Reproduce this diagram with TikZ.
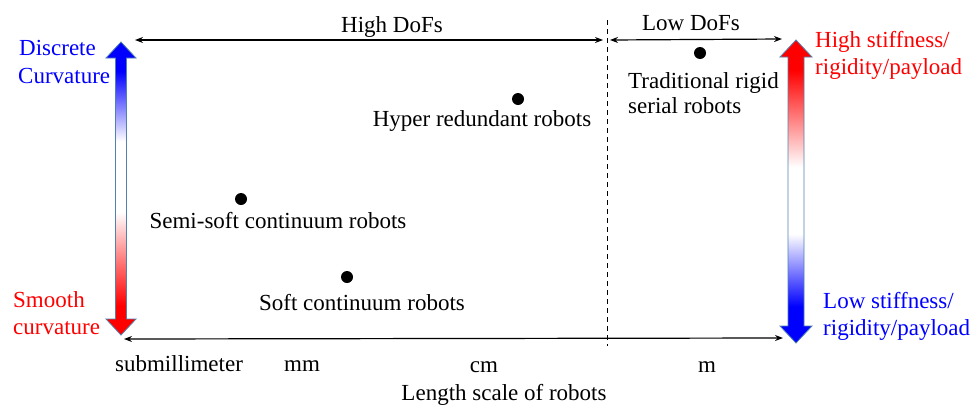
\documentclass[tikz,border=0pt]{standalone}
\usepackage{fontspec}
\setmainfont{Liberation Serif}
\usetikzlibrary{arrows.meta}

% Colour ramps for the two scale bars (stretched so that 25bp..75bp covers the bar)
\pgfdeclareverticalshading{curvramp}{100bp}{%
  color(0bp)=(red); color(30bp)=(red); color(46bp)=(white);
  color(58bp)=(white); color(70bp)=(blue); color(100bp)=(blue)}
\pgfdeclareverticalshading{stifframp}{100bp}{%
  color(0bp)=(blue); color(31bp)=(blue); color(43bp)=(white);
  color(54bp)=(white); color(70bp)=(red); color(100bp)=(red)}

\definecolor{barline}{RGB}{80,130,175}

\tikzset{
  lbl/.style={inner sep=0pt, anchor=base, font=\fontsize{23}{27}\selectfont},
  lblw/.style={lbl, anchor=base west},
  dot/.style={circle, fill=black, inner sep=0pt, minimum size=12pt},
  span/.style={line width=1.2pt, {Stealth[length=8pt,width=6pt]}-{Stealth[length=8pt,width=6pt]}},
  bar/.style={draw=barline, line width=0.8pt},
}

\begin{document}
\begin{tikzpicture}[x=1pt, y=-1pt]
\useasboundingbox (0,0) rectangle (979,405);

% ---- left scale bar: discrete (top) to smooth (bottom) curvature
\def\cx{121}\def\yt{42}\def\yb{335}\def\hl{16}\def\hw{15}\def\sw{5.5}
\shadedraw[shading=curvramp, bar]
  (\cx,\yt) -- (\cx+\hw,\yt+\hl) -- (\cx+\sw,\yt+\hl) -- (\cx+\sw,\yb-\hl)
  -- (\cx+\hw,\yb-\hl) -- (\cx,\yb) -- (\cx-\hw,\yb-\hl) -- (\cx-\sw,\yb-\hl)
  -- (\cx-\sw,\yt+\hl) -- (\cx-\hw,\yt+\hl) -- cycle;

% ---- right scale bar: high (top) to low (bottom) stiffness
\def\cx{796}\def\yt{40}\def\yb{343}\def\hl{17}\def\hw{16}\def\sw{8}
\shadedraw[shading=stifframp, bar]
  (\cx,\yt) -- (\cx+\hw,\yt+\hl) -- (\cx+\sw,\yt+\hl) -- (\cx+\sw,\yb-\hl)
  -- (\cx+\hw,\yb-\hl) -- (\cx,\yb) -- (\cx-\hw,\yb-\hl) -- (\cx-\sw,\yb-\hl)
  -- (\cx-\sw,\yt+\hl) -- (\cx-\hw,\yt+\hl) -- cycle;

% ---- span arrows
\coordinate (hiL) at (135,40);
\coordinate (hiR) at (603,40);
\coordinate (loL) at (610,40);
\coordinate (loR) at (782,39);
\coordinate (axL) at (124,339);
\coordinate (axR) at (783,338);
\coordinate (divT) at (607,20);
\coordinate (divB) at (607,346);

\draw[span] (hiL) -- (hiR);
\draw[span] (loL) -- (loR);
\draw[span] (axL) -- (axR);
\draw[line width=1pt, dash pattern=on 5pt off 4pt] (divT) -- (divB);

\node[lbl] (hidof) at (392,32) {High DoFs};
\node[lbl] (lodof) at (691,30) {Low DoFs};

% ---- side labels
\node[lblw, text=blue] (disc1) at (19,55) {Discrete};
\node[lblw, text=blue] (disc2) at (18,83) {Curvature};
\node[lblw, text=red] (smo1) at (13,307) {Smooth};
\node[lblw, text=red] (smo2) at (13,334) {curvature};
\node[lblw, text=red] (hs1) at (815,47) {High stiffness/};
\node[lblw, text=red] (hs2) at (815,74) {rigidity/payload};
\node[lblw, text=blue] (ls1) at (823,308) {Low stiffness/};
\node[lblw, text=blue] (ls2) at (823,335) {rigidity/payload};

% ---- robot classes
\node[dot] (semi) at (241,199) {};
\node[lbl] (semil) at (278,228) {Semi-soft continuum robots};
\node[dot] (soft) at (347,277) {};
\node[lbl] (softl) at (362,310) {Soft continuum robots};
\node[dot] (hyper) at (518,99) {};
\node[lbl] (hyperl) at (482,126) {Hyper redundant robots};
\node[dot] (trad) at (700,53) {};
\node[lblw] (trad1) at (628,88) {Traditional rigid};
\node[lblw] (trad2) at (628,113) {serial robots};

% ---- length scale
\node[lbl] (sub) at (179,371) {submillimeter};
\node[lbl] (mm) at (302,371) {mm};
\node[lbl] (cm) at (484,372) {cm};
\node[lbl] (m) at (707,372) {m};
\node[lbl] (scale) at (504,400) {Length scale of robots};
\end{tikzpicture}
\end{document}
